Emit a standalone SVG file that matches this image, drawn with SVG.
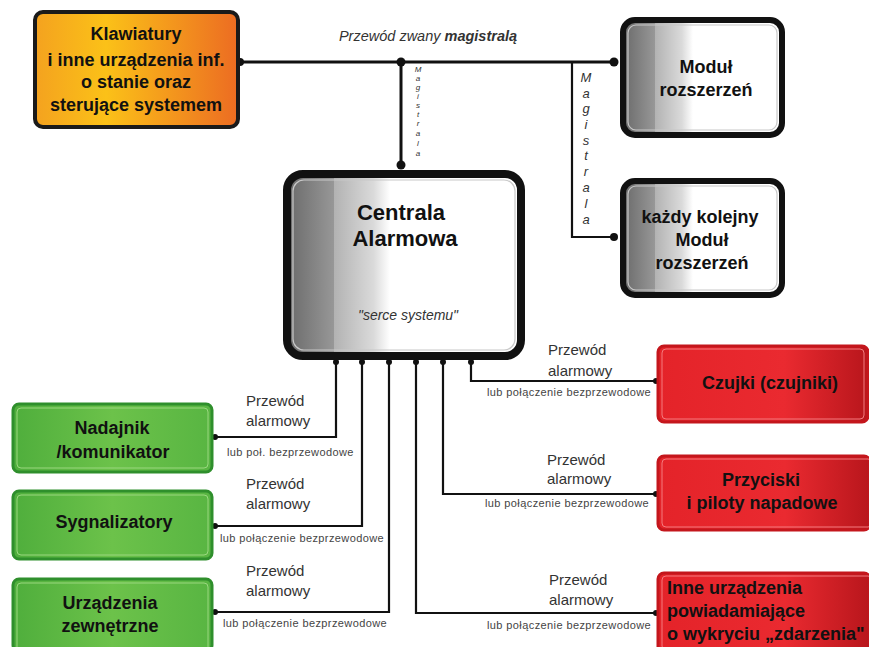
<svg xmlns="http://www.w3.org/2000/svg" width="869" height="647" viewBox="0 0 869 647">
<defs>
  <linearGradient id="gGray" x1="0" y1="0" x2="1" y2="0">
    <stop offset="0" stop-color="#6a6a6a"/>
    <stop offset="0.2" stop-color="#979797"/>
    <stop offset="0.2" stop-color="#b2b2b2"/>
    <stop offset="0.37" stop-color="#dadada"/>
    <stop offset="0.44" stop-color="#ffffff"/>
    <stop offset="1" stop-color="#ffffff"/>
  </linearGradient>
  <linearGradient id="gOrange" x1="0" y1="0" x2="1" y2="0">
    <stop offset="0" stop-color="#f4a21f"/>
    <stop offset="0.35" stop-color="#fbc118"/>
    <stop offset="1" stop-color="#ec6c22"/>
  </linearGradient>
  <linearGradient id="gGreen" x1="0" y1="0" x2="1" y2="0">
    <stop offset="0" stop-color="#4fae3c"/>
    <stop offset="0.5" stop-color="#6cc24a"/>
    <stop offset="1" stop-color="#58b542"/>
  </linearGradient>
  <linearGradient id="gRed" x1="0" y1="0" x2="1" y2="0">
    <stop offset="0" stop-color="#e42329"/>
    <stop offset="0.6" stop-color="#ea2a30"/>
    <stop offset="1" stop-color="#b8161c"/>
  </linearGradient>
</defs>
<style>
  .gray{fill:url(#gGray);stroke:#111;stroke-width:6}
  .grayIn{fill:none;stroke:#c8c8c8;stroke-width:1.2}
  .orange{fill:url(#gOrange);stroke:#1a1a1a;stroke-width:4}
  .green{fill:url(#gGreen);stroke:#2f8f2c;stroke-width:3}
  .greenIn{fill:none;stroke:#9ad77f;stroke-width:1}
  .red{fill:url(#gRed);stroke:#c4161c;stroke-width:3}
  .redIn{fill:none;stroke:#f57a7e;stroke-width:1}
  .t{font-family:"Liberation Sans",Arial,sans-serif;font-weight:bold;font-size:18px;fill:#111;text-anchor:middle}
  .big{font-size:22px}
  .lbl{font-family:"Liberation Sans",Arial,sans-serif;font-size:15px;fill:#333}
  .sm{font-family:"Liberation Sans",Arial,sans-serif;font-size:11px;letter-spacing:0.4px;fill:#444}
  .it{font-family:"Liberation Sans",Arial,sans-serif;font-style:italic;fill:#333}
  .bus{fill:none;stroke:#111;stroke-width:3}
  .wire{fill:none;stroke:#111;stroke-width:2.2}
  .dot{fill:#111}
</style>

<g id="connectors">
  <path class="bus" d="M240 62 H614"/>
  <path class="bus" d="M401 62 V165"/>
  <path class="wire" d="M572 62 V237 H614"/>
  <circle class="dot" cx="240" cy="62" r="4"/>
  <circle class="dot" cx="401" cy="62" r="4.5"/>
  <circle class="dot" cx="614" cy="62" r="4.5"/>
  <circle class="dot" cx="401" cy="165" r="4.5"/>
  <circle class="dot" cx="614" cy="237" r="4"/>
  <text class="it" x="428" y="41" font-size="14.5" text-anchor="middle">Przewód zwany <tspan font-weight="bold">magistralą</tspan></text>
  <g class="it" font-size="8" text-anchor="middle" fill="#555">
    <text x="418" y="72">M</text><text x="418" y="81">a</text><text x="418" y="90">g</text><text x="418" y="99">i</text><text x="418" y="108">s</text><text x="418" y="117">t</text><text x="418" y="126">r</text><text x="418" y="136">a</text><text x="418" y="146">l</text><text x="418" y="156">a</text>
  </g>
  <g class="it" font-size="13" text-anchor="middle" fill="#333">
    <text x="586" y="82">M</text><text x="586" y="98">a</text><text x="586" y="113">g</text><text x="586" y="129">i</text><text x="586" y="145">s</text><text x="586" y="160">t</text><text x="586" y="176">r</text><text x="586" y="192">a</text><text x="586" y="208">l</text><text x="586" y="224">a</text>
  </g>

  <path class="wire" d="M336 362 V437 H215"/>
  <path class="wire" d="M362 362 V526 H215"/>
  <path class="wire" d="M389 362 V612 H215"/>
  <path class="wire" d="M471 362 V381 H656"/>
  <path class="wire" d="M443 362 V494 H656"/>
  <path class="wire" d="M416 362 V613 H656"/>
  <circle class="dot" cx="336" cy="362" r="3"/>
  <circle class="dot" cx="362" cy="362" r="3"/>
  <circle class="dot" cx="389" cy="362" r="3"/>
  <circle class="dot" cx="416" cy="362" r="3"/>
  <circle class="dot" cx="443" cy="362" r="3"/>
  <circle class="dot" cx="471" cy="362" r="3"/>
  <circle class="dot" cx="215" cy="437" r="3"/>
  <circle class="dot" cx="215" cy="526" r="3"/>
  <circle class="dot" cx="215" cy="612" r="3"/>
  <circle class="dot" cx="656" cy="381" r="3"/>
  <circle class="dot" cx="656" cy="494" r="3"/>
  <circle class="dot" cx="656" cy="613" r="3"/>

  <text class="lbl" x="246" y="406">Przewód</text>
  <text class="lbl" x="246" y="426">alarmowy</text>
  <text class="sm" x="227" y="456">lub poł. bezprzewodowe</text>
  <text class="lbl" x="246" y="489">Przewód</text>
  <text class="lbl" x="246" y="509">alarmowy</text>
  <text class="sm" x="220" y="542">lub połączenie bezprzewodowe</text>
  <text class="lbl" x="246" y="576">Przewód</text>
  <text class="lbl" x="246" y="596">alarmowy</text>
  <text class="sm" x="223" y="627">lub połączenie bezprzewodowe</text>

  <text class="lbl" x="548" y="355">Przewód</text>
  <text class="lbl" x="548" y="376">alarmowy</text>
  <text class="sm" x="487" y="396">lub połączenie bezprzewodowe</text>
  <text class="lbl" x="547" y="465">Przewód</text>
  <text class="lbl" x="547" y="484">alarmowy</text>
  <text class="sm" x="485" y="507">lub połączenie bezprzewodowe</text>
  <text class="lbl" x="549" y="585">Przewód</text>
  <text class="lbl" x="549" y="605">alarmowy</text>
  <text class="sm" x="487" y="629">lub połączenie bezprzewodowe</text>
</g>

<g id="klawiatury">
  <rect class="orange" x="35" y="12" width="203" height="115" rx="8"/>
  <text class="t" x="136" y="40" font-size="20">Klawiatury</text>
  <text class="t" x="136" y="66">i inne urządzenia inf.</text>
  <text class="t" x="136" y="88">o stanie oraz</text>
  <text class="t" x="136" y="111">sterujące systemem</text>
</g>

<g id="modul1">
  <rect class="gray" x="623" y="20" width="159" height="115" rx="12"/>
  <rect class="grayIn" x="628" y="25" width="149" height="105" rx="8"/>
  <text class="t" x="706" y="73">Moduł</text>
  <text class="t" x="706" y="96">rozszerzeń</text>
</g>

<g id="modul2">
  <rect class="gray" x="623" y="181" width="159" height="114" rx="12"/>
  <rect class="grayIn" x="628" y="186" width="149" height="104" rx="8"/>
  <text class="t" x="700" y="223">każdy kolejny</text>
  <text class="t" x="702" y="246">Moduł</text>
  <text class="t" x="702" y="269">rozszerzeń</text>
</g>

<g id="centrala">
  <rect class="gray" x="287" y="174" width="234" height="182" rx="16" style="stroke-width:8"/>
  <rect class="grayIn" x="293" y="180" width="222" height="170" rx="11"/>
  <text class="t big" x="401" y="220">Centrala</text>
  <text class="t big" x="405" y="246">Alarmowa</text>
  <text class="it" x="408" y="320" font-size="14" text-anchor="middle">"serce systemu"</text>
</g>

<g id="nadajnik">
  <rect class="green" x="13" y="404" width="199" height="68" rx="6"/>
  <rect class="greenIn" x="17" y="408" width="191" height="60" rx="4"/>
  <text class="t" x="112" y="434">Nadajnik</text>
  <text class="t" x="113" y="458">/komunikator</text>
</g>

<g id="sygnalizatory">
  <rect class="green" x="13" y="491" width="199" height="68" rx="6"/>
  <rect class="greenIn" x="17" y="495" width="191" height="60" rx="4"/>
  <text class="t" x="114" y="528">Sygnalizatory</text>
</g>

<g id="urzadzenia">
  <rect class="green" x="13" y="579" width="199" height="72" rx="6"/>
  <rect class="greenIn" x="17" y="583" width="191" height="70" rx="4"/>
  <text class="t" x="110" y="609">Urządzenia</text>
  <text class="t" x="110" y="632">zewnętrzne</text>
</g>

<g id="czujki">
  <rect class="red" x="658" y="346" width="210" height="76" rx="6"/>
  <rect class="redIn" x="662" y="349" width="202" height="70" rx="4"/>
  <text class="t" x="770" y="389">Czujki (czujniki)</text>
</g>

<g id="przyciski">
  <rect class="red" x="658" y="456" width="212" height="74" rx="6"/>
  <rect class="redIn" x="662" y="459" width="210" height="68" rx="4"/>
  <text class="t" x="761" y="486">Przyciski</text>
  <text class="t" x="762" y="509">i  piloty napadowe</text>
</g>

<g id="inne">
  <rect class="red" x="658" y="573" width="212" height="80" rx="6"/>
  <rect class="redIn" x="662" y="576" width="210" height="74" rx="4"/>
  <text class="t" x="667" y="594" style="text-anchor:start">Inne urządzenia</text>
  <text class="t" x="667" y="617" style="text-anchor:start">powiadamiające</text>
  <text class="t" x="667" y="640" style="text-anchor:start">o wykryciu „zdarzenia"</text>
</g>
</svg>
